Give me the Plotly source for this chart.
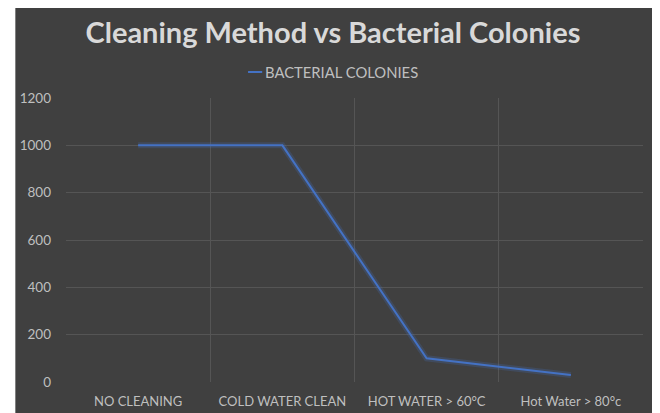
import plotly.graph_objects as go

categories = ["NO CLEANING", "COLD WATER CLEAN", "HOT WATER > 60°C", "Hot Water > 80°c"]
colonies = [1000, 1000, 100, 30]
y_ticks = [0, 200, 400, 600, 800, 1000, 1200]
series_name = "BACTERIAL COLONIES"

BG = "#404040"
GRID = "#555555"
TXT = "#bfbfbf"
LINE = "#4472C4"
FONT = "Lato, Carlito, 'Open Sans', sans-serif"

fig = go.Figure()
# soft glow under the line
fig.add_trace(go.Scatter(x=categories, y=colonies, mode="lines",
                         line=dict(color="rgba(68,114,196,0.22)", width=6),
                         hoverinfo="skip", showlegend=False))
fig.add_trace(go.Scatter(x=categories, y=colonies, mode="lines",
                         name=series_name, showlegend=False,
                         line=dict(color=LINE, width=2)))

fig.update_layout(
    width=660, height=413,
    margin=dict(l=54, r=25, t=90, b=39),
    paper_bgcolor=BG, plot_bgcolor=BG,
    font=dict(family=FONT, color=TXT, size=13),
    title=dict(text="Cleaning Method vs Bacterial Colonies",
               x=0.4924, xanchor="center", y=0.9395, yanchor="middle",
               font=dict(family=FONT, size=29, color="#d9d9d9", weight="bold")),
    xaxis=dict(type="category", showgrid=True, gridcolor=GRID, gridwidth=1,
               showline=False, zeroline=False, ticks="", tickson="boundaries",
               ticklabelstandoff=10, tickfont=dict(size=13, color=TXT),
               range=[-0.5, 3.5]),
    yaxis=dict(range=[0, 1200], tickvals=y_ticks, showgrid=True, gridcolor=GRID,
               gridwidth=1, zeroline=False, showline=False, ticks="",
               ticklabelstandoff=14, tickfont=dict(size=13.5, color=TXT)),
    annotations=[
        dict(text=series_name, xref="paper", yref="paper", x=0.3408, y=1.0915,
             xanchor="left", yanchor="middle", showarrow=False,
             font=dict(family=FONT, size=14.8, color=TXT)),
    ],
    shapes=[
        dict(type="line", xref="paper", yref="paper", x0=0.3155, x1=0.340,
             y0=1.0915, y1=1.0915, line=dict(color=LINE, width=2), layer="above"),
        dict(type="rect", xref="paper", yref="paper", x0=-0.2, x1=-0.0878,
             y0=-0.3, y1=1.5, fillcolor="white", line=dict(width=0), layer="above"),
        dict(type="rect", xref="paper", yref="paper", x0=1.0172, x1=1.2,
             y0=-0.3, y1=1.5, fillcolor="white", line=dict(width=0), layer="above"),
        dict(type="line", xref="paper", yref="paper", x0=1.0180, x1=1.0180,
             y0=-0.3, y1=1.5, line=dict(color="#8a8a8a", width=1), layer="above"),
    ],
)

fig.write_html("out.html")
